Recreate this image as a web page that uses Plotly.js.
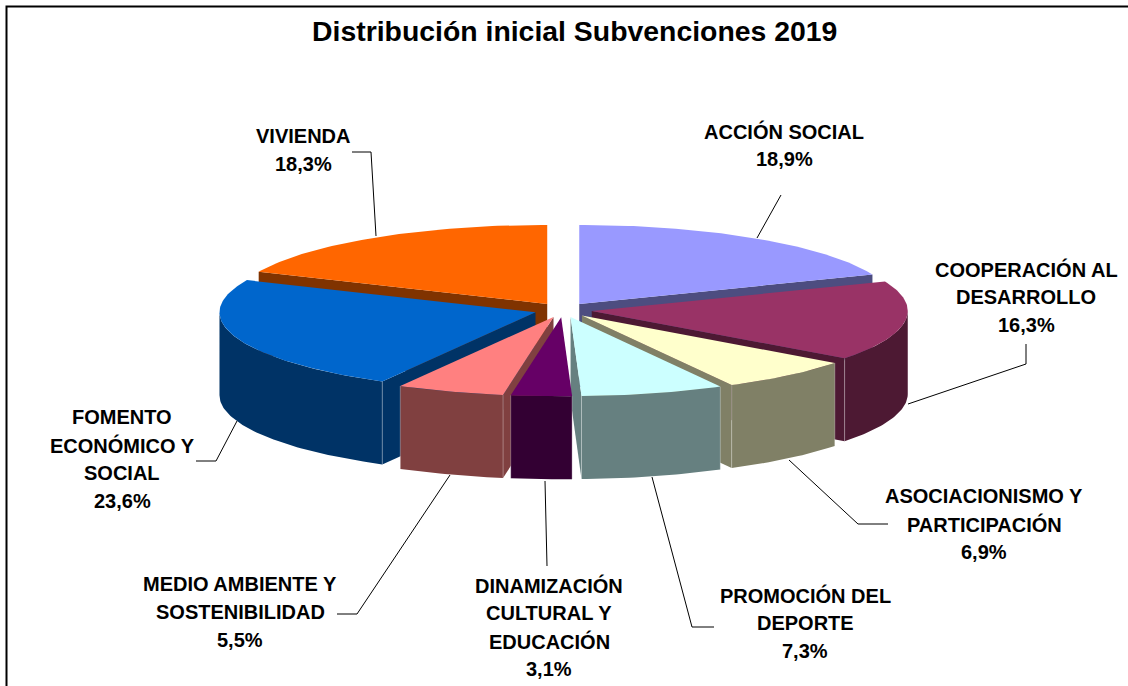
<!DOCTYPE html>
<html><head><meta charset="utf-8">
<script src="https://cdn.plot.ly/plotly-3.0.1.min.js"></script>
<style>html,body{margin:0;padding:0;background:#fff;overflow:hidden}#c{width:1128px;height:686px}</style>
</head><body><div id="c"></div>
<script>
var categories=["ACCIÓN SOCIAL","COOPERACIÓN AL DESARROLLO","ASOCIACIONISMO Y PARTICIPACIÓN","PROMOCIÓN DEL DEPORTE","DINAMIZACIÓN CULTURAL Y EDUCACIÓN","MEDIO AMBIENTE Y SOSTENIBILIDAD","FOMENTO ECONÓMICO Y SOCIAL","VIVIENDA"];
var values=[18.9,16.3,6.9,7.3,3.1,5.5,23.6,18.3];
var topColors=["#9999FF","#993366","#FFFFCC","#CCFFFF","#660066","#FF8080","#0066CC","#FF6600"];
var sideColors=["#4D4D80","#4D1933","#808066","#668080","#330033","#804040","#003366","#803300"];
var labelLines=[["ACCIÓN SOCIAL"],["COOPERACIÓN AL","DESARROLLO"],["ASOCIACIONISMO Y","PARTICIPACIÓN"],["PROMOCIÓN DEL","DEPORTE"],["DINAMIZACIÓN","CULTURAL Y","EDUCACIÓN"],["MEDIO AMBIENTE Y","SOSTENIBILIDAD"],["FOMENTO","ECONÓMICO Y","SOCIAL"],["VIVIENDA"]];
var labelX=[784,1026,984,805,549,240,122,303];
var labelY=[131,269,496,595,585,584,417,136];
var leaderPaths=[
 [[781,195],[757,238]],
 [[1026,344],[1026,364],[908,404]],
 [[888,524],[858,524],[789,460]],
 [[714,627],[692,627],[652,477]],
 [[547,566],[545,481]],
 [[337,614],[357,614],[450,475]],
 [[196,461],[216,461],[237,421]],
 [[352,152],[371,152],[376,236]]
];
var drawOrder=[7,0,1,6,2,5,3,4];
var CX=563,CY=310,RX=316,RY=79,EX=29,EY=7.3,DEPTH=83;
var rad=Math.PI/180;
var traces=[];
function poly(xs,ys,color){
  traces.push({type:"scatter",mode:"lines",x:xs,y:ys,fill:"toself",fillcolor:color,line:{width:0,color:color},hoverinfo:"skip",showlegend:false});
}
function arc(ax,ay,a0,a1,dy){
  var n=Math.max(2,Math.ceil(Math.abs(a1-a0))),xs=[],ys=[];
  for(var i=0;i<=n;i++){var a=(a0+(a1-a0)*i/n)*rad;xs.push(ax+RX*Math.sin(a));ys.push(ay-RY*Math.cos(a)+dy);}
  return [xs,ys];
}
var total=values.reduce(function(s,v){return s+v;},0);
var starts=[],sweeps=[],acc=0;
values.forEach(function(v){var d=v/total*360;starts.push(acc);sweeps.push(d);acc+=d;});
drawOrder.forEach(function(i){
  var a0=starts[i],a1=a0+sweeps[i],mid=(a0+a1)/2*rad;
  var ax=CX+EX*Math.sin(mid),ay=CY-EY*Math.cos(mid);
  var side=sideColors[i];
  function face(a){
    var px=ax+RX*Math.sin(a*rad),py=ay-RY*Math.cos(a*rad);
    poly([ax,px,px,ax,ax],[ay,py,py+DEPTH,ay+DEPTH,ay],side);
  }
  if(Math.sin(a0*rad)<-1e-6)face(a0);
  if(Math.sin(a1*rad)>1e-6)face(a1);
  var w0=Math.max(a0,90),w1=Math.min(a1,270);
  if(w1>w0){
    var t=arc(ax,ay,w0,w1,0),b=arc(ax,ay,w1,w0,DEPTH);
    poly(t[0].concat(b[0]),t[1].concat(b[1]),side);
    [a0,a1].forEach(function(a){
      if(a>90&&a<270){
        var px=ax+RX*Math.sin(a*rad),py=ay-RY*Math.cos(a*rad);
        traces.push({type:"scatter",mode:"lines",x:[px,px],y:[py,py+DEPTH],line:{width:1,color:"rgba(255,255,255,0.3)"},hoverinfo:"skip",showlegend:false});
      }
    });
  }
  var tp=arc(ax,ay,a0,a1,0);
  poly([ax].concat(tp[0],[ax]),[ay].concat(tp[1],[ay]),topColors[i]);
});
var FONT="Liberation Sans, Arial, sans-serif",LABEL=20,STEP=28;
var annotations=[];
categories.forEach(function(c,i){
  var lines=labelLines[i].concat([values[i].toFixed(1).replace(".",",")+"%"]);
  lines.forEach(function(l,k){
    annotations.push({xref:"x",yref:"y",x:labelX[i],y:labelY[i]+k*STEP,text:"<b>"+l+"</b>",showarrow:false,xanchor:"center",yanchor:"middle",font:{family:FONT,size:LABEL,color:"#000"}});
  });
});
annotations.push({xref:"x",yref:"y",x:574,y:31,text:"<b>Distribución inicial Subvenciones 2019</b>",showarrow:false,xanchor:"center",yanchor:"middle",font:{family:FONT,size:28.4,color:"#000"}});
var shapes=leaderPaths.map(function(p){
  return {type:"path",xref:"x",yref:"y",path:p.map(function(q,j){return (j?"L":"M")+q[0]+" "+q[1];}).join(" "),line:{color:"#000",width:1}};
});
shapes.push({type:"path",xref:"x",yref:"y",path:"M6.5 700 L6.5 6.5 L1140 6.5",line:{color:"#000",width:2}});
Plotly.newPlot("c",traces,{
  width:1128,height:686,margin:{l:0,r:0,t:0,b:0},paper_bgcolor:"#fff",plot_bgcolor:"#fff",showlegend:false,
  xaxis:{range:[0,1128],visible:false,fixedrange:true},
  yaxis:{range:[686,0],visible:false,fixedrange:true},
  annotations:annotations,shapes:shapes
},{displayModeBar:false,staticPlot:true});
</script></body></html>
